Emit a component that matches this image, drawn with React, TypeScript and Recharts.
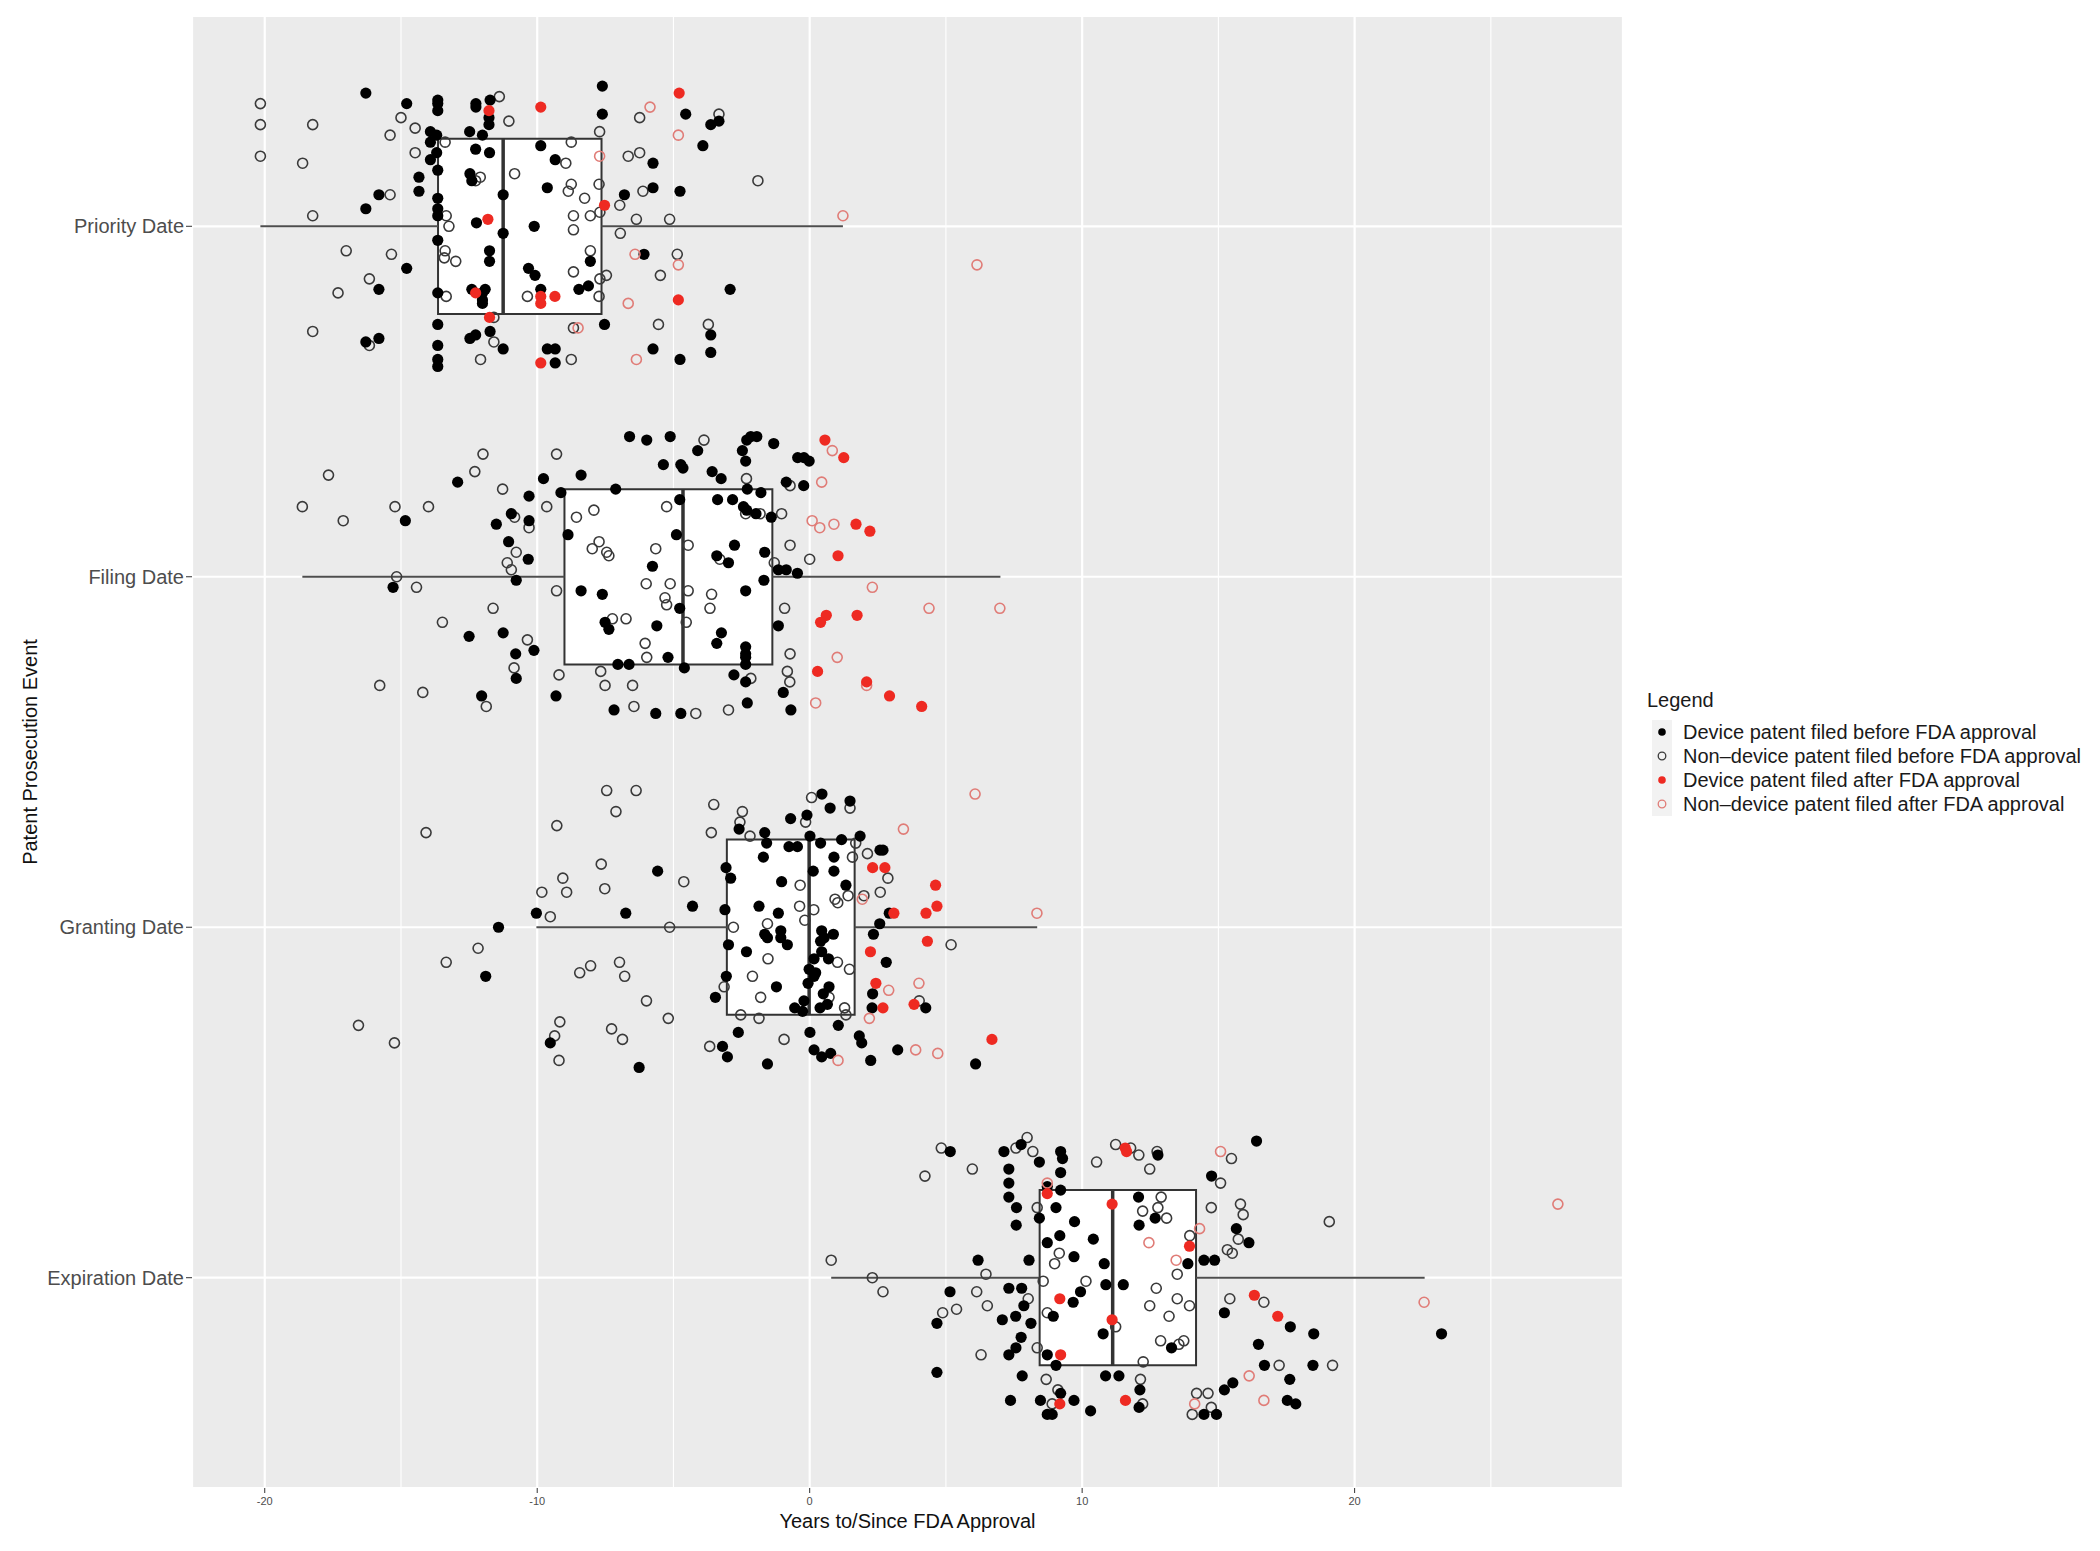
import {
  ScatterChart, Scatter, XAxis, YAxis, CartesianGrid, ReferenceLine, ReferenceArea,
} from "recharts";

const CATEGORIES = ["Priority Date", "Filing Date", "Granting Date", "Expiration Date"];
const X_TICKS = [-20, -10, 0, 10, 20];
const X_MINOR = [-15, -5, 5, 15, 25];
const X_DOMAIN = [-22.67, 29.85];

const LEGEND_LABELS = [
  "Device patent filed before FDA approval",
  "Non\u2013device patent filed before FDA approval",
  "Device patent filed after FDA approval",
  "Non\u2013device patent filed after FDA approval",
];

// [min, q1, median, q3, max] per category
const BOX_STATS = [
  [-20.16, -13.64, -11.25, -7.64, 1.22],
  [-18.62, -9.0, -4.65, -1.37, 7.0],
  [-10.03, -3.04, -0.02, 1.65, 8.35],
  [0.79, 8.44, 11.12, 14.18, 22.57],
];

// points: [years, jitter, group] group 0 device before, 1 non-device before, 2 device after, 3 non-device after
type Pt = [number, number, number];

const PRIORITY: Pt[] = [
  [-16.29,-0.38,0],[-20.16,-0.35,1],[-20.16,-0.29,1],[-20.16,-0.20,1],[-18.24,-0.29,1],[-18.61,-0.18,1],
  [-14.79,-0.35,0],[-15.00,-0.31,1],[-15.40,-0.26,1],[-14.48,-0.28,1],[-14.48,-0.21,1],
  [-13.65,-0.36,0],[-13.65,-0.35,0],[-13.65,-0.33,0],[-13.92,-0.27,0],[-13.69,-0.26,0],
  [-13.92,-0.24,0],[-13.69,-0.21,0],[-13.92,-0.19,0],[-13.65,-0.16,0],[-14.34,-0.14,0],[-14.34,-0.10,0],
  [-15.81,-0.09,0],[-15.40,-0.09,1],[-16.29,-0.05,0],[-18.24,-0.03,1],
  [-13.65,-0.08,0],[-13.65,-0.05,0],[-13.65,-0.03,0],[-13.38,-0.24,1],
  [-12.25,-0.35,0],[-12.25,-0.34,0],[-11.73,-0.36,0],[-11.39,-0.37,1],[-11.77,-0.33,2],
  [-11.77,-0.31,0],[-11.77,-0.29,0],[-11.04,-0.30,1],[-12.48,-0.27,0],[-12.01,-0.26,0],
  [-12.26,-0.22,0],[-11.75,-0.21,0],[-12.47,-0.15,0],[-12.40,-0.13,0],[-12.09,-0.14,1],[-12.26,-0.13,1],
  [-10.83,-0.15,1],[-9.87,-0.34,2],[-9.87,-0.23,0],[-9.34,-0.19,0],[-8.95,-0.18,1],[-8.75,-0.24,1],
  [-7.61,-0.40,0],[-7.61,-0.32,0],[-7.71,-0.27,1],[-7.71,-0.20,3],[-6.66,-0.20,1],[-6.24,-0.21,1],
  [-5.75,-0.18,0],[-6.24,-0.31,1],[-5.86,-0.34,3],[-4.79,-0.38,2],[-4.55,-0.32,0],[-4.82,-0.26,3],
  [-3.92,-0.23,0],[-3.63,-0.29,0],[-3.33,-0.30,0],[-3.33,-0.32,1],[-1.90,-0.13,1],
  [-9.63,-0.11,0],[-8.75,-0.12,1],[-8.86,-0.10,1],[-8.26,-0.08,1],[-7.73,-0.12,1],[-7.53,-0.06,2],
  [-6.97,-0.06,1],[-6.80,-0.09,0],[-6.12,-0.10,1],[-5.75,-0.11,0],[-4.76,-0.10,0],
  [-11.25,-0.09,0],[-11.25,0.02,0],[-10.11,0.00,0],[-8.67,-0.03,1],[-8.67,0.01,1],
  [-8.05,-0.03,1],[-7.70,-0.04,1],[-6.95,0.02,1],[-6.36,-0.02,1],[-5.14,-0.02,1],
  [-13.34,-0.03,1],[-13.24,0.00,1],[-13.65,0.04,0],[-12.23,-0.01,0],[-11.81,-0.02,2],
  [-17.01,0.07,1],[-15.35,0.08,1],[-13.38,0.07,1],[-13.41,0.09,1],[-12.99,0.10,1],
  [-11.75,0.07,0],[-11.75,0.10,0],[-14.79,0.12,0],[-16.16,0.15,1],[-15.81,0.18,0],[-17.31,0.19,1],
  [-13.65,0.19,0],[-13.34,0.20,1],[-12.40,0.18,0],[-12.26,0.19,2],[-12.01,0.19,0],[-12.01,0.21,0],
  [-12.01,0.22,0],[-11.91,0.18,0],[-10.32,0.12,0],[-10.08,0.14,0],
  [-10.36,0.20,1],[-9.87,0.20,2],[-9.87,0.22,2],[-9.35,0.20,2],[-9.87,0.18,0],
  [-8.47,0.18,0],[-8.12,0.17,0],[-8.67,0.13,1],[-8.05,0.07,1],[-8.05,0.10,0],
  [-7.70,0.15,1],[-7.46,0.14,1],[-7.73,0.20,1],[-6.41,0.08,3],[-6.08,0.08,0],
  [-4.86,0.08,1],[-4.82,0.11,3],[-5.48,0.14,1],[-6.66,0.22,3],[-4.82,0.21,2],[-2.92,0.18,0],
  [-11.75,0.26,2],[-11.59,0.26,1],[-13.65,0.28,0],[-13.65,0.34,0],[-13.65,0.38,0],[-13.65,0.40,0],
  [-18.24,0.30,1],[-16.29,0.33,0],[-15.81,0.32,0],[-16.16,0.34,1],[-12.47,0.32,0],[-12.26,0.31,0],
  [-11.73,0.30,0],[-11.59,0.33,1],[-11.25,0.35,0],[-12.08,0.38,1],[-9.63,0.35,0],[-9.34,0.35,0],
  [-9.87,0.39,2],[-9.34,0.39,0],[-8.75,0.38,1],[-8.67,0.29,1],[-8.50,0.29,3],[-7.53,0.28,0],
  [-5.55,0.28,1],[-5.75,0.35,0],[-6.36,0.38,3],[-4.76,0.38,0],[-3.72,0.28,1],[-3.63,0.31,0],
  [-3.63,0.36,0],[1.22,-0.03,3],[6.14,0.11,3],
];

const FILING: Pt[] = [
  [-17.66,-0.29,1],[-18.62,-0.20,1],[-17.12,-0.16,1],[-15.22,-0.20,1],[-13.99,-0.20,1],[-14.84,-0.16,0],
  [-12.92,-0.27,0],[-11.99,-0.35,1],[-12.29,-0.30,1],[-11.27,-0.25,1],[-9.29,-0.35,1],[-9.77,-0.28,0],
  [-8.39,-0.29,0],[-10.30,-0.23,0],[-9.65,-0.20,1],[-9.13,-0.24,0],[-7.12,-0.25,0],[-6.61,-0.40,0],
  [-5.98,-0.39,0],[-10.95,-0.18,0],[-10.83,-0.17,1],[-11.50,-0.15,0],[-10.30,-0.16,0],[-10.30,-0.14,1],
  [-11.05,-0.10,0],[-10.77,-0.07,1],[-11.10,-0.04,1],[-10.33,-0.05,0],[-10.95,-0.02,1],[-10.77,0.01,0],
  [-15.16,0.00,1],[-15.29,0.03,0],[-14.43,0.03,1],[-8.87,-0.12,0],[-8.56,-0.17,1],[-7.92,-0.19,1],
  [-7.73,-0.10,1],[-7.98,-0.08,1],[-7.45,-0.07,1],[-7.37,-0.06,1],[-6.00,0.02,1],[-9.29,0.04,1],
  [-8.39,0.04,0],[-7.61,0.05,0],[-11.62,0.09,1],[-13.48,0.13,1],[-12.50,0.17,0],[-11.25,0.16,0],
  [-10.36,0.18,1],[-10.12,0.21,0],[-10.79,0.22,0],[-10.85,0.26,1],[-10.77,0.29,0],[-7.51,0.13,0],
  [-7.37,0.15,0],[-7.24,0.12,1],[-6.74,0.12,1],[-6.04,0.19,1],[-5.98,0.23,1],[-7.04,0.25,0],
  [-6.63,0.25,0],[-7.67,0.27,1],[-7.51,0.31,1],[-6.50,0.31,1],[-9.20,0.28,1],[-9.31,0.34,0],
  [-12.04,0.34,0],[-11.87,0.37,1],[-15.78,0.31,1],[-14.20,0.33,1],[-7.18,0.38,0],[-6.45,0.37,1],
  [-5.12,-0.40,0],[-3.88,-0.39,1],[-4.11,-0.36,0],[-5.37,-0.32,0],[-4.73,-0.32,0],[-4.65,-0.31,0],
  [-3.58,-0.30,0],[-3.25,-0.28,0],[-2.47,-0.36,0],[-2.31,-0.39,0],[-2.16,-0.40,0],[-1.94,-0.40,0],
  [-2.35,-0.33,0],[-1.32,-0.38,0],[-2.32,-0.28,1],[-2.29,-0.25,0],[-1.79,-0.24,0],[-3.38,-0.22,0],
  [-2.83,-0.22,0],[-2.43,-0.20,0],[-2.31,-0.19,0],[-2.35,-0.18,1],[-1.97,-0.18,0],[-1.82,-0.18,1],
  [-1.41,-0.17,0],[-1.03,-0.18,1],[-0.86,-0.27,0],[-0.72,-0.26,1],[-0.22,-0.26,0],[-0.44,-0.34,0],
  [-0.21,-0.34,0],[-0.02,-0.33,0],[0.56,-0.39,2],[0.83,-0.36,3],[1.25,-0.34,2],[0.44,-0.27,3],
  [0.09,-0.16,3],[0.37,-0.14,3],[0.89,-0.15,3],[1.70,-0.15,2],[2.21,-0.13,2],[1.04,-0.06,2],
  [0.00,-0.05,1],[-0.72,-0.09,1],[-1.30,-0.04,1],[-1.15,-0.02,0],[-0.86,-0.02,0],[-0.45,-0.01,0],
  [-5.25,-0.20,1],[-4.77,-0.22,0],[-4.89,-0.12,0],[-5.65,-0.08,1],[-4.46,-0.09,1],[-5.77,-0.03,0],
  [-3.41,-0.06,0],[-3.30,-0.05,1],[-2.98,-0.04,0],[-2.76,-0.09,0],[-1.65,-0.07,0],[-1.68,0.01,0],
  [-2.35,0.04,0],[-5.12,0.02,1],[-5.31,0.06,1],[-5.25,0.08,1],[-4.46,0.04,1],[-3.60,0.05,1],
  [-3.66,0.09,1],[-4.77,0.09,0],[-4.53,0.13,1],[-5.61,0.14,0],[-5.20,0.23,0],[-4.60,0.26,0],
  [-3.24,0.16,0],[-3.41,0.19,0],[-2.35,0.20,0],[-2.35,0.22,0],[-2.35,0.23,0],[-2.35,0.25,0],
  [-2.78,0.28,0],[-2.16,0.29,1],[-2.35,0.30,0],[-1.15,0.14,0],[-0.92,0.09,1],[-0.72,0.22,1],
  [-0.82,0.27,1],[-0.73,0.30,1],[-0.97,0.33,0],[-2.29,0.36,0],[-2.98,0.38,1],[-4.18,0.39,1],
  [-4.73,0.39,0],[-5.65,0.39,0],[-0.69,0.38,0],[2.30,0.03,3],[4.38,0.09,3],[6.98,0.09,3],
  [0.61,0.11,2],[0.40,0.13,2],[1.74,0.11,2],[1.01,0.23,3],[0.29,0.27,2],[2.09,0.30,2],
  [2.09,0.31,3],[2.93,0.34,2],[4.11,0.37,2],[0.22,0.36,3],
];

const GRANTING: Pt[] = [
  [-14.08,-0.27,1],[-16.56,0.28,1],[-15.24,0.33,1],[-13.34,0.10,1],[-12.17,0.06,1],[-11.42,0.00,0],
  [-11.89,0.14,0],[-10.03,-0.04,0],[-9.52,-0.03,1],[-9.83,-0.10,1],[-9.28,-0.29,1],[-9.06,-0.14,1],
  [-8.92,-0.10,1],[-7.45,-0.39,1],[-6.37,-0.39,1],[-7.11,-0.33,1],[-7.65,-0.18,1],[-7.52,-0.11,1],
  [-6.75,-0.04,0],[-5.58,-0.16,0],[-4.62,-0.13,1],[-5.14,0.00,1],[-6.98,0.10,1],[-6.79,0.14,1],
  [-8.44,0.13,1],[-8.04,0.11,1],[-5.99,0.21,1],[-5.19,0.26,1],[-9.17,0.27,1],[-9.36,0.31,1],
  [-9.52,0.33,0],[-9.20,0.38,1],[-7.27,0.29,1],[-6.87,0.32,1],[-6.26,0.40,0],
  [-3.52,-0.35,1],[-3.61,-0.27,1],[-2.47,-0.33,1],[-2.56,-0.30,1],[-2.59,-0.28,0],[-2.19,-0.26,1],
  [-1.65,-0.27,0],[-1.58,-0.24,0],[-1.70,-0.20,0],[-0.70,-0.31,0],[-0.10,-0.32,0],[-0.15,-0.30,1],
  [-0.76,-0.23,0],[-0.45,-0.23,0],[0.07,-0.37,1],[0.45,-0.38,0],[0.75,-0.34,0],[1.48,-0.36,0],
  [1.48,-0.34,1],[0.01,-0.26,0],[0.40,-0.24,0],[1.17,-0.25,0],[1.85,-0.26,0],[1.69,-0.24,1],
  [0.89,-0.20,0],[1.57,-0.20,1],[0.89,-0.16,0],[0.13,-0.16,0],[1.33,-0.12,0],[2.12,-0.21,1],
  [2.58,-0.22,0],[2.69,-0.22,0],[2.31,-0.17,2],[2.76,-0.17,2],[2.87,-0.14,1],[-3.07,-0.17,0],
  [-2.90,-0.14,0],[-1.03,-0.13,0],[-0.35,-0.12,1],[-4.30,-0.06,0],[-3.11,-0.05,0],[-1.86,-0.06,0],
  [-1.15,-0.04,0],[-0.37,-0.06,1],[0.15,-0.05,1],[-0.18,-0.02,1],[0.93,-0.08,1],[1.03,-0.07,1],
  [1.41,-0.09,1],[1.99,-0.09,1],[1.93,-0.08,3],[2.59,-0.10,1],[2.92,-0.04,0],[3.09,-0.04,2],
  [2.57,-0.01,0],[2.34,0.02,0],[-2.80,0.00,1],[-1.55,-0.01,1],[-1.65,0.02,0],[-1.55,0.03,0],
  [-1.06,0.01,0],[-1.06,0.03,0],[-0.82,0.05,0],[0.44,0.01,0],[0.53,0.03,0],[0.40,0.04,0],
  [0.44,0.07,0],[0.87,0.02,0],[-2.98,0.05,0],[-2.32,0.07,0],[-1.53,0.09,1],[0.16,0.09,0],
  [0.69,0.09,0],[1.02,0.10,1],[1.46,0.12,1],[-0.02,0.12,0],[0.22,0.13,0],[0.16,0.14,0],
  [2.23,0.07,2],[2.81,0.10,0],[4.62,-0.12,2],[4.67,-0.06,2],[4.27,-0.04,2],[4.32,0.04,2],
  [5.19,0.05,1],[8.34,-0.04,3],[6.07,-0.38,3],[3.44,-0.28,3],[-3.06,0.14,0],[-3.14,0.17,1],
  [-3.46,0.20,0],[-2.10,0.14,1],[-1.80,0.20,1],[-1.22,0.17,0],[-0.06,0.16,0],[0.71,0.17,0],
  [0.50,0.19,0],[0.71,0.20,1],[-0.55,0.23,0],[-0.21,0.21,0],[-0.26,0.24,0],[0.38,0.23,0],
  [0.65,0.22,0],[1.28,0.23,1],[1.33,0.25,1],[2.43,0.16,2],[2.90,0.18,3],[2.31,0.19,0],
  [2.29,0.23,0],[2.69,0.23,2],[4.01,0.16,3],[3.83,0.22,2],[4.02,0.21,1],[4.26,0.23,0],
  [-2.53,0.25,1],[-1.86,0.26,1],[-2.62,0.30,0],[-3.67,0.34,1],[-3.20,0.34,0],[-3.02,0.37,0],
  [-1.55,0.39,0],[-0.94,0.32,1],[0.01,0.30,0],[1.05,0.28,0],[2.19,0.26,3],[1.82,0.31,0],
  [1.91,0.33,0],[0.16,0.35,0],[0.44,0.37,0],[0.77,0.36,0],[1.04,0.38,3],[2.24,0.38,0],
  [3.23,0.35,0],[3.89,0.35,3],[4.70,0.36,3],[6.09,0.39,0],[6.69,0.32,2],
];

const EXPIRATION: Pt[] = [
  [0.79,-0.05,1],[2.30,0.00,1],[2.69,0.04,1],[4.83,-0.37,1],[5.16,-0.36,0],[4.23,-0.29,1],
  [5.97,-0.31,1],[6.18,-0.05,0],[6.47,-0.01,1],[5.15,0.04,0],[6.13,0.04,1],[4.88,0.10,1],
  [5.39,0.09,1],[4.67,0.13,0],[6.52,0.08,1],[4.67,0.27,0],[6.29,0.22,1],[7.13,-0.36,0],
  [7.57,-0.37,1],[7.76,-0.38,0],[7.98,-0.40,1],[8.19,-0.36,1],[8.43,-0.33,0],[7.31,-0.31,0],
  [7.31,-0.27,0],[7.31,-0.23,0],[7.59,-0.20,0],[7.58,-0.15,0],[9.21,-0.36,0],[9.28,-0.34,0],
  [9.21,-0.30,0],[8.72,-0.27,3],[8.72,-0.26,0],[8.72,-0.24,2],[9.21,-0.25,0],[8.35,-0.20,1],
  [9.04,-0.20,0],[8.43,-0.17,0],[9.72,-0.16,0],[9.18,-0.12,0],[8.72,-0.10,0],[10.41,-0.11,0],
  [9.16,-0.07,1],[8.99,-0.04,1],[9.70,-0.06,0],[8.05,-0.05,0],[10.81,-0.04,0],[10.87,0.02,0],
  [10.14,0.01,1],[9.94,0.04,0],[9.67,0.07,0],[8.57,0.01,1],[7.31,0.03,0],[7.78,0.03,0],
  [7.86,0.08,0],[8.02,0.06,1],[8.72,0.10,1],[8.94,0.11,0],[9.18,0.06,2],[7.07,0.12,0],
  [7.56,0.11,0],[8.12,0.13,0],[7.76,0.17,0],[7.57,0.20,0],[7.31,0.22,0],[8.35,0.20,1],
  [8.72,0.22,0],[9.21,0.22,2],[9.04,0.25,0],[10.77,0.16,0],[11.10,0.12,2],[11.23,0.14,1],
  [11.10,-0.21,2],[10.53,-0.33,1],[11.23,-0.38,1],[11.58,-0.37,2],[11.63,-0.36,2],[11.78,-0.37,1],
  [12.08,-0.35,1],[12.48,-0.31,1],[12.75,-0.36,1],[12.78,-0.35,0],[12.07,-0.23,0],[12.22,-0.19,1],
  [12.78,-0.20,1],[12.90,-0.23,1],[12.09,-0.15,0],[12.68,-0.17,0],[13.10,-0.17,1],[12.45,-0.10,3],
  [11.51,0.02,0],[13.45,-0.05,3],[13.95,-0.12,1],[13.94,-0.09,2],[13.88,-0.04,0],[13.49,-0.01,1],
  [12.72,0.03,1],[12.48,0.08,1],[13.49,0.06,1],[13.94,0.08,1],[13.19,0.11,1],[12.88,0.18,1],
  [13.28,0.20,0],[13.55,0.19,1],[13.73,0.18,1],[12.24,0.24,1],[12.14,0.29,1],[10.86,0.28,0],
  [11.35,0.28,0],[12.12,0.32,0],[11.59,0.35,2],[12.22,0.36,1],[12.09,0.37,0],[8.68,0.29,1],
  [9.11,0.32,1],[9.21,0.33,0],[9.70,0.35,0],[9.18,0.36,2],[8.90,0.36,1],[8.47,0.35,0],
  [7.37,0.35,0],[7.80,0.28,0],[8.72,0.39,0],[8.90,0.39,0],[10.31,0.38,0],
  [16.40,-0.39,0],[15.08,-0.36,3],[15.48,-0.34,1],[14.75,-0.29,0],[15.08,-0.27,1],[14.74,-0.20,1],
  [15.81,-0.21,1],[15.91,-0.18,1],[14.31,-0.14,3],[15.66,-0.14,0],[15.73,-0.11,1],[16.12,-0.10,0],
  [15.33,-0.08,1],[15.51,-0.07,1],[14.47,-0.05,0],[14.86,-0.05,0],[19.07,-0.16,1],[27.46,-0.21,3],
  [15.42,0.06,1],[16.32,0.05,2],[16.67,0.07,1],[15.22,0.10,0],[17.18,0.11,2],[17.64,0.14,0],
  [18.50,0.16,0],[16.47,0.19,0],[16.69,0.25,0],[17.23,0.25,1],[18.47,0.25,0],[19.19,0.25,1],
  [16.13,0.28,3],[15.53,0.30,0],[15.22,0.32,0],[16.67,0.35,3],[17.53,0.35,0],[17.84,0.36,0],
  [17.62,0.29,0],[14.20,0.33,1],[14.62,0.33,1],[14.13,0.36,3],[14.74,0.37,1],[14.04,0.39,1],
  [14.47,0.39,0],[14.93,0.39,0],[22.55,0.07,3],[23.19,0.16,0],
];

const POINTS_BY_CATEGORY = [PRIORITY, FILING, GRANTING, EXPIRATION];

const GROUP_STYLE = [
  { fill: "#000000", stroke: "none", r: 5.6 },
  { fill: "none", stroke: "#3a3a3a", r: 5 },
  { fill: "#EE2A22", stroke: "none", r: 5.6 },
  { fill: "none", stroke: "#E07C77", r: 5 },
];
const DRAW_ORDER = [1, 0, 3, 2];

const seriesFor = (group: number) =>
  POINTS_BY_CATEGORY.flatMap((pts, ci) =>
    pts.filter((p) => p[2] === group).map((p) => ({ x: p[0], y: ci + 1 + p[1] })),
  );

const makeShape = (group: number) => (props: any) => {
  const s = GROUP_STYLE[group];
  return (
    <circle
      cx={props.cx}
      cy={props.cy}
      r={s.r}
      fill={s.fill}
      stroke={s.stroke}
      strokeWidth={s.stroke === "none" ? 0 : 1.6}
    />
  );
};

const BOX_LINE = "#333333";

function ChartLegend() {
  return (
    <div style={{ position: "absolute", left: 1647, top: 686, fontSize: 20, color: "#1a1a1a" }}>
      <div style={{ lineHeight: "28px", height: 34 }}>Legend</div>
      {LEGEND_LABELS.map((label, i) => (
        <div key={label} style={{ display: "flex", alignItems: "center", height: 24, paddingLeft: 5 }}>
          <svg width={20} height={24} style={{ background: "#F2F2F2", marginRight: 11, flexShrink: 0 }}>
            <circle
              cx={10}
              cy={12}
              r={3.8}
              fill={GROUP_STYLE[i].fill}
              stroke={GROUP_STYLE[i].stroke}
              strokeWidth={GROUP_STYLE[i].stroke === "none" ? 0 : 1.3}
            />
          </svg>
          <span style={{ whiteSpace: "nowrap", lineHeight: "24px" }}>{label}</span>
        </div>
      ))}
    </div>
  );
}

export default function App() {
  return (
    <div
      style={{
        position: "absolute", left: 0, top: 0, width: 2100, height: 1551,
        background: "#fff", fontFamily: "'Liberation Sans', Arial, Helvetica, sans-serif",
      }}
    >
      <ScatterChart width={2100} height={1551} margin={{ top: 16, right: 477, bottom: 0, left: 0 }}>
        <CartesianGrid fill="#EBEBEB" stroke="#FFFFFF" strokeWidth={2.2} />
        <CartesianGrid
          horizontal={false}
          fill="none"
          stroke="#FFFFFF"
          strokeWidth={1.1}
          verticalValues={X_MINOR}
        />
        <XAxis
          type="number"
          dataKey="x"
          domain={X_DOMAIN}
          ticks={X_TICKS}
          interval={0}
          height={63}
          axisLine={false}
          tickSize={5}
          tickMargin={4}
          tickLine={{ stroke: "#333333" }}
          tick={{ fontSize: 11, fill: "#4D4D4D" }}
          label={{
            value: "Years to/Since FDA Approval",
            position: "insideBottom",
            offset: 23,
            style: { fontSize: 20, fill: "#111" },
          }}
        />
        <YAxis
          type="number"
          dataKey="y"
          domain={[0.4, 4.6]}
          reversed
          ticks={[1, 2, 3, 4]}
          interval={0}
          width={192}
          axisLine={false}
          tickSize={6}
          tickMargin={2}
          tickLine={{ stroke: "#333333" }}
          tick={{ fontSize: 20, fill: "#4D4D4D" }}
          tickFormatter={(v: number) => CATEGORIES[v - 1] ?? ""}
          label={{
            value: "Patent Prosecution Event",
            angle: -90,
            position: "insideLeft",
            offset: 30,
            style: { fontSize: 20, fill: "#111", textAnchor: "middle" },
          }}
        />
        {BOX_STATS.map(([mn, q1], i) => (
          <ReferenceLine
            key={`wl${i}`}
            segment={[{ x: mn, y: i + 1 }, { x: q1, y: i + 1 }]}
            stroke="#4D4D4D"
            strokeWidth={2}
          />
        ))}
        {BOX_STATS.map(([, , , q3, mx], i) => (
          <ReferenceLine
            key={`wr${i}`}
            segment={[{ x: q3, y: i + 1 }, { x: mx, y: i + 1 }]}
            stroke="#4D4D4D"
            strokeWidth={2}
          />
        ))}
        {BOX_STATS.map(([, q1, , q3], i) => (
          <ReferenceArea
            key={`box${i}`}
            x1={q1}
            x2={q3}
            y1={i + 0.75}
            y2={i + 1.25}
            fill="#FFFFFF"
            fillOpacity={1}
            stroke={BOX_LINE}
            strokeWidth={2}
          />
        ))}
        {BOX_STATS.map(([, , med], i) => (
          <ReferenceLine
            key={`med${i}`}
            segment={[{ x: med, y: i + 0.75 }, { x: med, y: i + 1.25 }]}
            stroke={BOX_LINE}
            strokeWidth={3.5}
          />
        ))}
        {DRAW_ORDER.map((g) => (
          <Scatter
            key={g}
            name={LEGEND_LABELS[g]}
            data={seriesFor(g)}
            shape={makeShape(g)}
            isAnimationActive={false}
          />
        ))}
      </ScatterChart>
      <ChartLegend />
    </div>
  );
}
